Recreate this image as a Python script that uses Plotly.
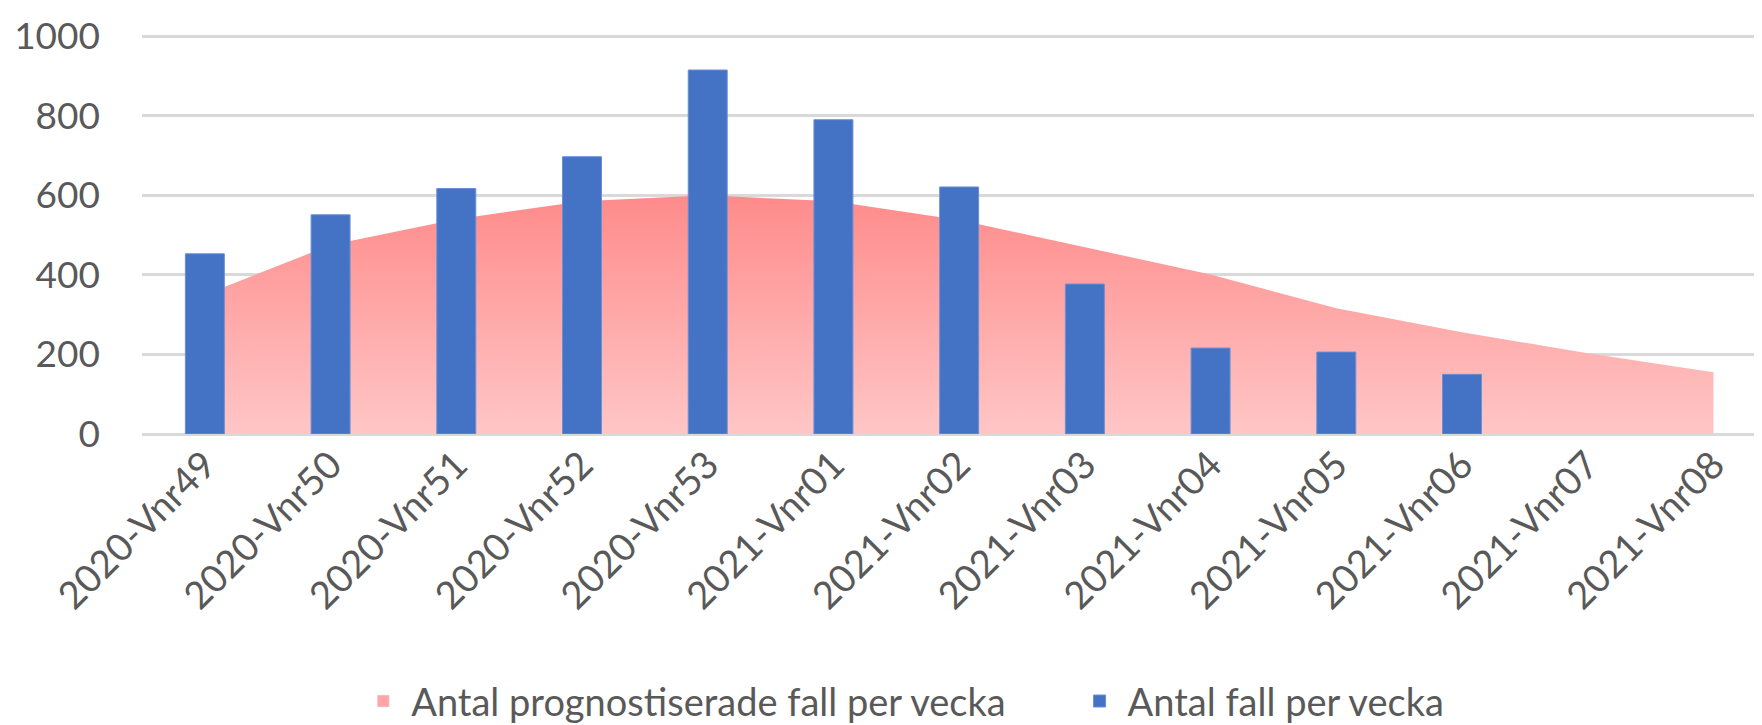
import plotly.graph_objects as go

categories = ["2020-Vnr49", "2020-Vnr50", "2020-Vnr51", "2020-Vnr52", "2020-Vnr53",
              "2021-Vnr01", "2021-Vnr02", "2021-Vnr03", "2021-Vnr04", "2021-Vnr05",
              "2021-Vnr06", "2021-Vnr07", "2021-Vnr08"]
forecast = [350, 475, 540, 585, 600, 585, 538, 469, 401, 316, 256, 203, 155]
actual_categories = categories[:11]
actual = [453, 551, 617, 697, 915, 790, 621, 377, 216, 206, 150]

FONT = "Lato"
GRAY = "#595959"

fig = go.Figure()
fig.add_trace(go.Scatter(
    x=categories, y=forecast, name="Antal prognostiserade fall per vecka",
    mode="lines", fill="tozeroy", line=dict(width=0, color="#FF8A8A"),
    fillgradient=dict(type="vertical", start=0, stop=600,
                      colorscale=[[0, "#FFC6C6"], [1, "#FF8B8B"]]),
    showlegend=False, legendgroup="f", zorder=0,
))
# legend swatch for the forecast area
fig.add_trace(go.Bar(
    x=[None], y=[None], name="Antal prognostiserade fall per vecka",
    marker=dict(color="#FFA5A5"), legendgroup="f", showlegend=True, legend="legend",
))
fig.add_trace(go.Bar(
    x=actual_categories, y=actual, name="Antal fall per vecka",
    marker=dict(color="#4472C4", line=dict(width=1, color="#6A8FD6")),
    width=0.31, zorder=1, legend="legend2",
))

legend_common = dict(orientation="h", xanchor="left", y=-0.67, yanchor="middle",
                     font=dict(family=FONT, size=38, color=GRAY), itemwidth=46,
                     bgcolor="rgba(0,0,0,0)")

fig.update_layout(
    width=1762, height=725,
    margin=dict(l=134, r=0, t=27, b=290),
    paper_bgcolor="white", plot_bgcolor="white",
    font=dict(family=FONT, size=38, color=GRAY),
    barmode="overlay",
    showlegend=True,
    legend=dict(x=0.131, **legend_common),
    legend2=dict(x=0.571, **legend_common),
    xaxis=dict(type="category", range=[-0.5, 12.45], tickangle=-45,
               showgrid=False, showline=False, ticks="", automargin=False,
               tickfont=dict(family=FONT, size=38, color=GRAY)),
    yaxis=dict(range=[0, 1003], tickvals=[0, 200, 400, 600, 800, 1000],
               showgrid=True, gridcolor="#D9D9D9", gridwidth=2.5,
               zeroline=True, zerolinecolor="#D9D9D9", zerolinewidth=2.5,
               showline=False, ticks="", automargin=False, ticklabelstandoff=41,
               tickfont=dict(family=FONT, size=37, color=GRAY)),
)

fig.write_html("out.html")
